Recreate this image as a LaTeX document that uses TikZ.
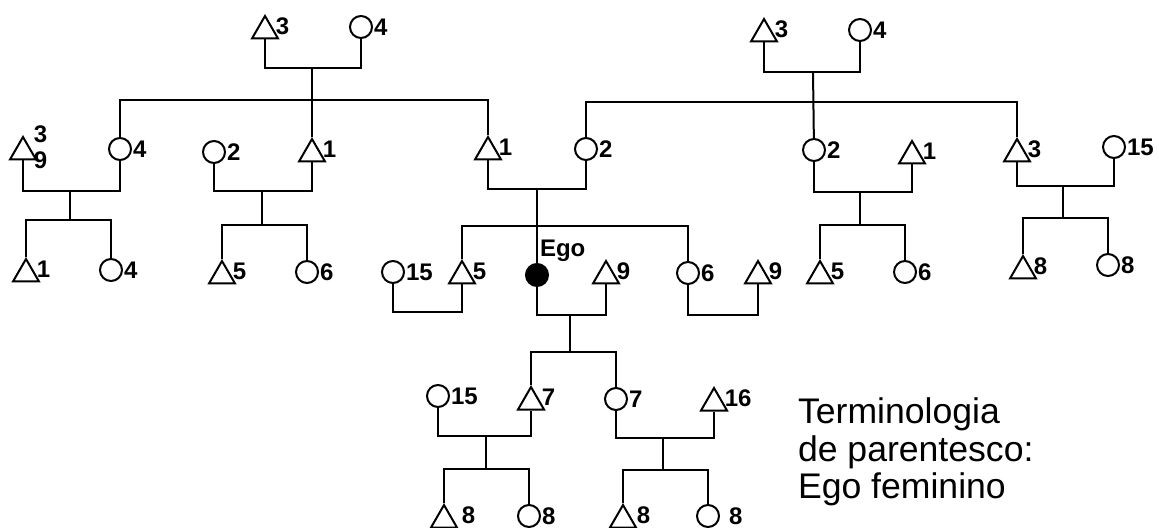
\documentclass[tikz,border=0pt]{standalone}
\usepackage{fontspec}
\setmainfont{Liberation Sans}
\usetikzlibrary{shapes.geometric}

\begin{document}
\begin{tikzpicture}
[x=0.5pt,y=-0.5pt,line width=1pt,%
  male/.style={regular polygon,regular polygon sides=3,draw,inner sep=0pt,minimum size=15pt,label distance=2pt},%
  female/.style={circle,draw,inner sep=0pt,minimum size=11pt,label distance=1.5pt},%
  ego/.style={female,fill=black},%
  ml/.style={yshift=2.5pt},%
  every label/.style={inner sep=0pt,font=\fontsize{12}{13}\selectfont\bfseries,align=left}]
\useasboundingbox (0,0) rectangle (1159,528);
% grandparents
\node[male] (pgf) at (265,31) [label={[ml]right:3}] {};
\node[female] (pgm) at (361,27) [label=right:4] {};
\node[male] (mgf) at (764,34) [label={[ml]right:3}] {};
\node[female] (mgm) at (860,30) [label=right:4] {};
% parents generation
\node[male] (fsh) at (23,152) [label={[ml]right:3\\9}] {};
\node[female] (fs) at (120,149) [label=right:4] {};
\node[female] (fbw) at (214,152) [label=right:2] {};
\node[male] (fb) at (312,154) [label={[ml]right:1}] {};
\node[male] (fa) at (488,152) [label={[ml]right:1}] {};
\node[female] (mo) at (586,149) [label=right:2] {};
\node[female] (ms) at (814,150) [label=right:2] {};
\node[male] (msh) at (912,156) [label={[ml]right:1}] {};
\node[male] (mb) at (1017,154) [label={[ml]right:3}] {};
\node[female] (mbw) at (1114,147) [label=right:15] {};
% ego generation
\node[male] (fsS) at (26,274) [label={[ml]right:1}] {};
\node[female] (fsD) at (111,270) [label=right:4] {};
\node[male] (fbS) at (222,276) [label={[ml]right:5}] {};
\node[female] (fbD) at (307,272) [label=right:6] {};
\node[female] (brw) at (393,272) [label=right:15] {};
\node[male] (br) at (462,276) [label={[ml]right:5}] {};
\node[ego] (ego) at (537,275)
  [label={[anchor=south west,xshift=1pt]north:Ego}] {};
\node[male] (hus) at (606,276) [label={[ml]right:9}] {};
\node[female] (sis) at (688,273) [label=right:6] {};
\node[male] (sish) at (758,276) [label={[ml]right:9}] {};
\node[male] (msS) at (820,276) [label={[ml]right:5}] {};
\node[female] (msD) at (905,272) [label=right:6] {};
\node[male] (mbS) at (1023,271) [label={[ml]right:8}] {};
\node[female] (mbD) at (1108,265) [label=right:8] {};
% children
\node[female] (sonw) at (438,396) [label=right:15] {};
\node[male] (son) at (531,402) [label={[ml]right:7}] {};
\node[female] (dau) at (616,399) [label=right:7] {};
\node[male] (dauh) at (714,403) [label={[ml]right:16}] {};
% grandchildren
\node[male] (ssS) at (444,520) [label={[ml,xshift=3.5pt]right:8}] {};
\node[female] (ssD) at (529,516) [label=right:8] {};
\node[male] (dsS) at (623,520) [label={[ml,xshift=1.5pt]right:8}] {};
\node[female] (dsD) at (708,516) [label={[xshift=4pt]right:8}] {};
% marriages and sibling bars
\coordinate (pgM) at (312,68);   \coordinate (pgS) at (312,100);
\coordinate (mgM) at (813,72);   \coordinate (mgS) at (813,102);
\coordinate (aM) at (70,191);    \coordinate (aS) at (70,220);
\coordinate (bM) at (262,191);   \coordinate (bS) at (262,225);
\coordinate (cM) at (537,189);   \coordinate (cS) at (537,226);
\coordinate (dM) at (860,192);   \coordinate (dS) at (860,225);
\coordinate (eM) at (1063,186);  \coordinate (eS) at (1063,218);
\coordinate (brM) at (427,312);
\coordinate (egoM) at (570,315); \coordinate (egoS) at (570,352);
\coordinate (sisM) at (723,315);
\coordinate (sonM) at (486,436); \coordinate (sonS) at (486,469);
\coordinate (dauM) at (663,438); \coordinate (dauS) at (663,470);
\draw (pgf) |- (pgM) -| (pgm);
\draw (pgM) -- (fb);
\draw (fs) |- (pgS) -| (fa);
\draw (mgf) |- (mgM) -| (mgm);
\draw (mgM) -- (ms);
\draw (mo) |- (mgS) -| (mb);
\draw (fsh) |- (aM) -| (fs);
\draw (aM) -- (aS);
\draw (fsS) |- (aS) -| (fsD);
\draw (fbw) |- (bM) -| (fb);
\draw (bM) -- (bS);
\draw (fbS) |- (bS) -| (fbD);
\draw (fa) |- (cM) -| (mo);
\draw (cM) -- (ego);
\draw (br) |- (cS) -| (sis);
\draw (ms) |- (dM) -| (msh);
\draw (dM) -- (dS);
\draw (msS) |- (dS) -| (msD);
\draw (mb) |- (eM) -| (mbw);
\draw (eM) -- (eS);
\draw (mbS) |- (eS) -| (mbD);
\draw (brw) |- (brM) -| (br);
\draw (ego) |- (egoM) -| (hus);
\draw (egoM) -- (egoS);
\draw (son) |- (egoS) -| (dau);
\draw (sis) |- (sisM) -| (sish);
\draw (sonw) |- (sonM) -| (son);
\draw (sonM) -- (sonS);
\draw (ssS) |- (sonS) -| (ssD);
\draw (dau) |- (dauM) -| (dauh);
\draw (dauM) -- (dauS);
\draw (dsS) |- (dauS) -| (dsD);
\node (title) [anchor=north west,inner sep=0pt,align=left,
  font=\fontsize{17.8}{18.8}\selectfont] at (797,397)
  {Terminologia\\de parentesco:\\Ego feminino};
\end{tikzpicture}
\end{document}
